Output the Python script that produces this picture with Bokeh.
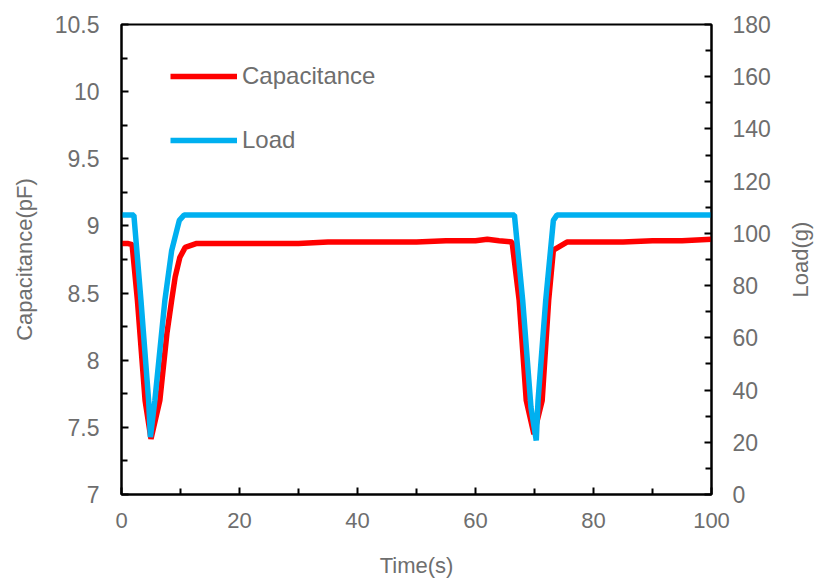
import math
from bokeh.plotting import figure
from bokeh.models import Range1d, LinearAxis, FixedTicker, Legend, LegendItem, Label
from bokeh.embed import file_html
from bokeh.resources import INLINE

# Capacitance (pF) vs time (s)
cap_t = [0, 1.0, 1.8, 2.7, 4.0, 5.0, 6.5, 7.7, 8.5, 9.1, 9.9, 10.8, 12.75, 15, 20, 25, 30, 35, 40,
         45, 50, 55, 60, 62, 64, 66.2, 67.4, 68.6, 69.9, 71.3, 72.4, 73.2, 75.5, 80, 85, 90, 95, 100]
cap_v = [8.87, 8.87, 8.86, 8.445, 7.70, 7.415, 7.70, 8.20, 8.445, 8.62, 8.767, 8.84, 8.87, 8.87, 8.87, 8.87, 8.87, 8.88, 8.88,
         8.88, 8.88, 8.89, 8.89, 8.90, 8.89, 8.88, 8.445, 7.70, 7.45, 7.70, 8.445, 8.82, 8.88, 8.88, 8.88, 8.89, 8.89, 8.90]

# Load (g) vs time (s)
load_t = [0, 1.0, 2.1, 3.3, 4.6, 4.9, 5.65, 7.35, 8.5, 9.8, 10.6, 20, 30, 40, 50, 60, 66.6,
          68.0, 69.4, 70.3, 70.6, 71.9, 73.2, 73.8, 80, 90, 100]
load_v = [107, 107, 107, 74.3, 36, 22, 36, 74.3, 93.4, 105, 107, 107, 107, 107, 107, 107, 107,
          74.3, 33.4, 20.7, 36, 74.3, 105, 107, 107, 107, 107]

x_ticks = [0, 20, 40, 60, 80, 100]
x_minor = [10, 30, 50, 70, 90]
cap_ticks = [7, 7.5, 8, 8.5, 9, 9.5, 10, 10.5]
cap_minor = [7.25, 7.75, 8.25, 8.75, 9.25, 9.75, 10.25]
load_ticks = [0, 20, 40, 60, 80, 100, 120, 140, 160, 180]
load_minor = [10, 30, 50, 70, 90, 110, 130, 150, 170]

FONT = "Liberation Sans"
GRAY = "#6e6e6e"

p = figure(width=816, height=580, output_backend="svg", toolbar_location=None,
           x_range=Range1d(0, 100), y_range=Range1d(7, 10.5),
           min_border_left=121, min_border_right=105, min_border_top=24, min_border_bottom=86)
p.xgrid.visible = False
p.ygrid.visible = False
p.outline_line_color = "black"
p.outline_line_width = 2
p.background_fill_color = "white"
p.border_fill_color = "white"

p.extra_y_ranges = {"load": Range1d(0, 180)}

r1 = p.line(cap_t, cap_v, line_color="#FF0000", line_width=5.5)
r2 = p.line(load_t, load_v, line_color="#00B0F0", line_width=5.5, y_range_name="load")

right = LinearAxis(y_range_name="load")
p.add_layout(right, "right")

def style(ax, ticks, minor, size):
    ax.ticker = FixedTicker(ticks=ticks, minor_ticks=minor)
    ax.axis_line_color = "black"
    ax.axis_line_width = 2
    ax.major_tick_line_color = "black"
    ax.minor_tick_line_color = "black"
    ax.major_tick_line_width = 2
    ax.minor_tick_line_width = 2
    ax.major_tick_in = 7
    ax.major_tick_out = 0
    ax.minor_tick_in = 6
    ax.minor_tick_out = 0
    ax.major_label_text_font = FONT
    ax.major_label_text_font_size = size
    ax.major_label_text_color = GRAY
    ax.axis_label_text_font = FONT
    ax.axis_label_text_font_size = "22px"
    ax.axis_label_text_color = GRAY
    ax.axis_label_text_font_style = "normal"

style(p.xaxis[0], x_ticks, x_minor, "22px")
p.xaxis[0].axis_label = "Time(s)"
p.xaxis[0].major_label_standoff = 18
p.xaxis[0].axis_label_standoff = 22
style(p.yaxis[0], cap_ticks, cap_minor, "23px")
p.yaxis[0].axis_label = "Capacitance(pF)"
p.yaxis[0].major_label_standoff = 22
p.yaxis[0].axis_label_standoff = 15
style(right, load_ticks, load_minor, "23px")
right.major_label_standoff = 21

# Right axis title drawn as a rotated label in the right side panel
load_title = Label(x=27, y=235, x_units="screen", y_units="screen", text="Load(g)",
                   angle=math.pi / 2, text_align="center", text_baseline="middle",
                   text_font=FONT, text_font_size="22px", text_color=GRAY)
p.add_layout(load_title, "right")

legend = Legend(items=[LegendItem(label="Capacitance", renderers=[r1]),
                       LegendItem(label="Load", renderers=[r2])],
                location=(49, 339), padding=0, margin=0, spacing=34,
                glyph_width=67, glyph_height=30, label_height=30, label_standoff=5,
                border_line_alpha=0, background_fill_alpha=0,
                label_text_font=FONT, label_text_font_size="24px", label_text_color=GRAY)
p.add_layout(legend, "center")

open("out.html", "w").write(file_html(p, INLINE))
